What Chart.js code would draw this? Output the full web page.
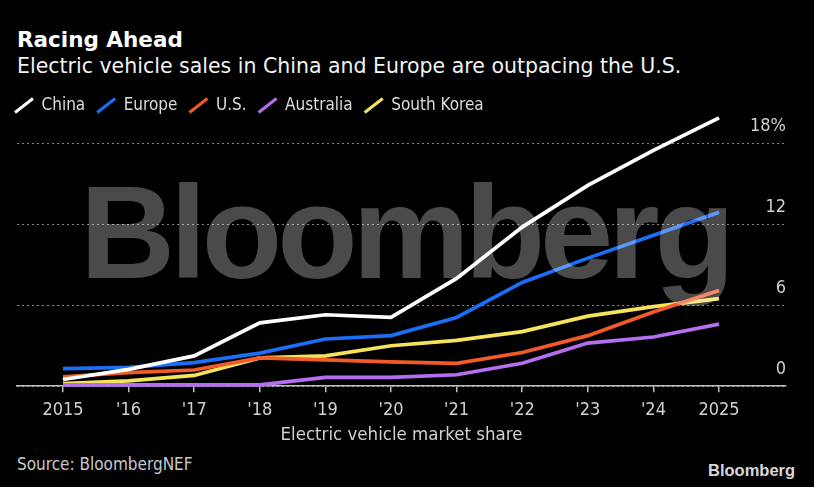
<!DOCTYPE html>
<html>
<head>
<meta charset="utf-8">
<script src="https://cdn.jsdelivr.net/npm/chart.js@4"></script>
<style>
  body { margin: 0; background: #000; width: 814px; height: 487px; overflow: hidden; position: relative; }
  .txt { position: absolute; white-space: nowrap; }
  #title { left: 17px; top: 28.5px; font: bold 21.5px/21.5px "DejaVu Sans", sans-serif; color: #fff; }
  #sub { left: 17px; top: 56px; font: 20.5px/20.5px "DejaVu Sans", sans-serif; color: #f2f2f2; }
  #wrap { position: absolute; left: 0; top: 78px; width: 814px; height: 368px; }
  #wm { position: absolute; left: 80px; top: 166.8px; font: bold 131.7px/131.7px "Liberation Sans", Arial, sans-serif;
        letter-spacing: -5px; color: rgba(255,255,255,0.29); pointer-events: none; white-space: nowrap; }
  #src { left: 17px; top: 455.6px; font: 17px/17px "DejaVu Sans Condensed", "DejaVu Sans", sans-serif; color: #c8c8c8; }
  #logo { position: absolute; left: 708px; top: 462px; font: bold 16.5px/16.5px "Liberation Sans", Arial, sans-serif; color: #d8d8d8; }
</style>
</head>
<body>
<div id="title" class="txt">Racing Ahead</div>
<div id="sub" class="txt">Electric vehicle sales in China and Europe are outpacing the U.S.</div>
<div id="wrap"><canvas id="grafico"></canvas></div>
<div id="wm">Bloomberg</div>
<div id="src" class="txt">Source: BloombergNEF</div>
<div id="logo">Bloomberg</div>
<script>
const years = [2015, 2016, 2017, 2018, 2019, 2020, 2021, 2022, 2023, 2024, 2025];
const yearLabels = ['2015', "'16", "'17", "'18", "'19", "'20", "'21", "'22", "'23", "'24", '2025'];
const yTicks = [0, 6, 12, 18];
const yLabels = ['0', '6', '12', '18%'];

const china     = [0.5, 1.25, 2.25, 4.7, 5.3, 5.1, 8.0, 11.8, 14.9, 17.5, 19.9];
const europe    = [1.3, 1.4, 1.75, 2.45, 3.5, 3.75, 5.1, 7.7, 9.5, 11.2, 12.9];
const us        = [0.7, 1.0, 1.2, 2.1, 1.95, 1.8, 1.7, 2.5, 3.75, 5.5, 7.1];
const australia = [0.1, 0.1, 0.1, 0.1, 0.65, 0.65, 0.85, 1.7, 3.2, 3.65, 4.6];
const korea     = [0.2, 0.4, 0.8, 2.1, 2.25, 3.0, 3.4, 4.05, 5.2, 5.9, 6.5];

const series = [
  { label: 'China', data: china, color: '#ffffff' },
  { label: 'Europe', data: europe, color: '#1b6ef5' },
  { label: 'U.S.', data: us, color: '#f25a2a' },
  { label: 'Australia', data: australia, color: '#b46ef0' },
  { label: 'South Korea', data: korea, color: '#f5e35e' }
];

const fuente = '"DejaVu Sans Condensed", "DejaVu Sans", sans-serif';
Chart.defaults.font.family = fuente;
Chart.defaults.font.size = 17;

// mueve la leyenda a la izquierda del area del grafico
const moverLeyenda = {
  id: 'moverLeyenda',
  afterLayout(chart) {
    chart.legend.left -= 14;
    chart.legend.right -= 14;
  }
};

const ctx = document.getElementById('grafico').getContext('2d');
const grafico = new Chart(ctx, {
  type: 'line',
  data: {
    datasets: series.map(s => ({
      label: s.label,
      data: s.data.map((v, i) => ({ x: years[i], y: v })),
      borderColor: s.color,
      backgroundColor: s.color,
      borderWidth: 3.7,
      pointRadius: 0,
      pointHoverRadius: 0,
      pointStyle: 'line',
      pointRotation: -55,
      pointBorderWidth: 3,
      pointBorderColor: s.color,
      clip: false,
      tension: 0
    }))
  },
  options: {
    responsive: true,
    maintainAspectRatio: false,
    animation: false,
    events: [],
    layout: { padding: { left: 17, right: 28, top: 7, bottom: 0 } },
    plugins: {
      tooltip: { enabled: false },
      legend: {
        position: 'top',
        align: 'start',
        labels: {
          color: '#dcdcdc',
          usePointStyle: true,
          pointStyleWidth: 18,
          boxHeight: 12,
          padding: 12,
          font: { size: 17 }
        }
      }
    },
    scales: {
      x: {
        type: 'linear',
        min: 2014.299,
        max: 2026.021,
        afterBuildTicks: axis => { axis.ticks = years.map(v => ({ value: v })); },
        ticks: {
          color: '#d0d0d0',
          padding: 7,
          maxRotation: 0,
          autoSkip: false,
          font: { size: 18 },
          callback: v => yearLabels[years.indexOf(v)]
        },
        grid: { drawOnChartArea: false, drawTicks: true, tickLength: 6, color: '#bdbdbd', lineWidth: 1.5 },
        border: { display: true, color: '#bdbdbd', width: 1.5 },
        title: {
          display: true,
          text: 'Electric vehicle market share',
          color: '#d0d0d0',
          font: { size: 18.5 },
          padding: { top: -4, bottom: 0 }
        }
      },
      y: {
        position: 'right',
        min: 0,
        max: 19.45,
        afterBuildTicks: axis => { axis.ticks = yTicks.map(v => ({ value: v })); },
        ticks: {
          mirror: true,
          padding: 0,
          labelOffset: -17,
          color: '#d0d0d0',
          font: { size: 18 },
          callback: v => yLabels[yTicks.indexOf(v)]
        },
        grid: { drawTicks: false, color: '#8a8a8a', lineWidth: 1 },
        border: { display: false, dash: [2, 3] }
      }
    }
  },
  plugins: [moverLeyenda]
});
</script>
</body>
</html>
